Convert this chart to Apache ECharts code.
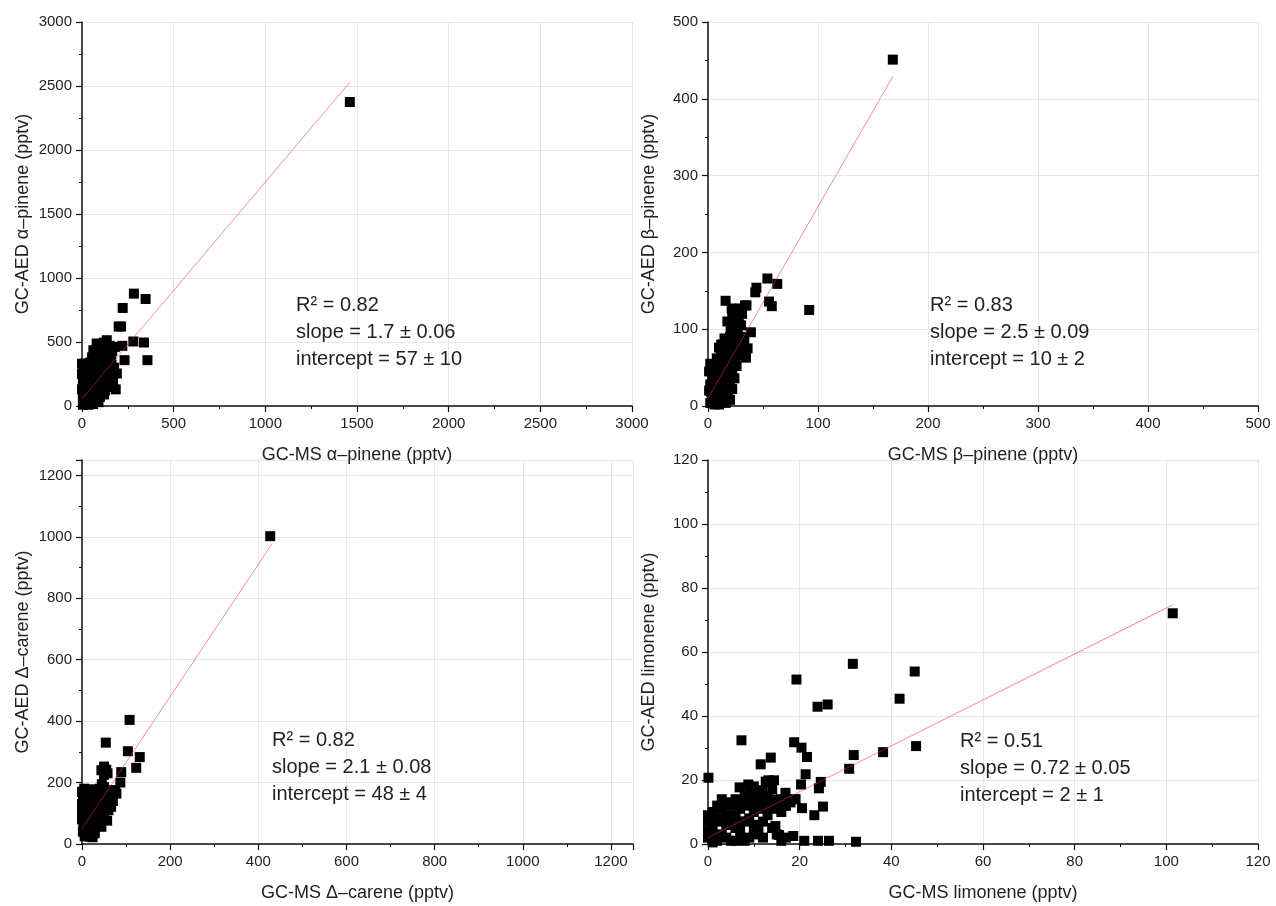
<!DOCTYPE html>
<html>
<head>
<meta charset="utf-8">
<script src="https://cdn.jsdelivr.net/npm/echarts@6/dist/echarts.min.js"></script>
<style>
  html, body { margin: 0; padding: 0; background: #fff; }
  #main { width: 1276px; height: 906px; }
</style>
</head>
<body>
<div id="main"></div>
<script>
// GC-MS vs GC-AED comparisons (pptv)
var alphaPinene = [
  [1461,2375],[283,878],[347,836],[222,766],[200,621],[213,621],[280,504],[338,496],
  [220,470],[232,358],[357,358],[184,130],
  [80,488],[135,514],[118,495],[100,470],[62,436],[85,450],[150,470],[180,462],
  [165,430],[120,440],[140,410],[105,420],[75,400],[90,380],[153,371],[125,360],
  [110,345],[98,332],[140,330],[160,320],[175,300],[22,319],[10,300],[40,290],
  [70,300],[60,270],[30,260],[15,240],[50,230],[80,250],[115,280],[130,250],
  [150,270],[171,255],[190,254],[169,203],[150,200],[120,220],[100,190],[70,200],
  [40,200],[20,190],[5,180],[10,150],[35,160],[60,160],[85,150],[110,150],
  [135,150],[151,151],[125,120],[100,110],[75,120],[50,120],[25,110],[5,100],
  [15,80],[40,80],[65,80],[98,72],[120,90],[80,50],[55,40],[30,45],[10,40],
  [44,34],[20,15],[5,10],[60,15],[35,10],[90,30],[0,250],[0,330],[18,332],
  [5,60],[0,130],[45,340],[55,380],[130,470],[160,350]
];
var alphaFit = [[0,57],[1461,2530]];

var betaPinene = [
  [168,451],[92,125],[54,166],[63,159],[44,154],[43,148],[55.5,136],[58,130],
  [16,137],[35,131],[25,126],[30,123],[17.6,110],[39,96],[20.6,97],[34.5,63],
  [21.5,127],[29,127],[33.6,131],[26,116],
  [22,118],[28,115],[31,120],[26,108],[22,104],[30,105],[27,98],[24,92],[30,90],
  [33,85],[14,80],[10,76],[18,78],[22,82],[26,84],[12,70],[16,66],[20,70],
  [24,74],[28,72],[30,66],[8,62],[14,60],[18,58],[22,56],[26,52],[2,55],[6,50],
  [10,46],[14,44],[18,48],[22,40],[24,36],[4,40],[8,36],[12,32],[16,30],[20,26],
  [22,22],[2,28],[6,24],[10,20],[14,16],[18,14],[20,8],[4,14],[8,10],[12,6],
  [16,4],[2,4],[6,2],[10,2],[1,45],[3,18],[25,62],[32,70],[36,75],[20,90],[15,88],
  [12,80],[16,74],[20,62],[24,66],[28,80],[9,54],[5,35],[11,26],[17,20],[19,36],
  [7,16],[13,10],[1,20],[5,8]
];
var betaFit = [[0,10],[168,429]];

var deltaCarene = [
  [427,1002],[108,404],[54,330],[104,302],[131,283],[123,248],[89,234],[44,240],
  [55,242],[50,225],[58,230],[50,252],[87,200],[78,164],[66,121],[57,76],[71,175],
  [17,24],[24,22],
  [0,170],[5,180],[10,175],[15,165],[20,178],[25,170],[30,172],[35,165],[40,180],
  [45,195],[50,185],[8,150],[18,150],[28,145],[38,150],[48,160],[58,165],[65,170],
  [75,175],[0,130],[5,110],[10,90],[15,120],[20,100],[25,130],[30,110],[35,90],
  [40,120],[45,100],[50,130],[55,140],[60,110],[5,60],[10,40],[15,70],[20,60],
  [25,80],[30,60],[35,70],[40,80],[0,80],[2,40],[6,25],[12,50],[50,90],[45,150],
  [60,150],[70,140],[42,130],[32,140],[22,140],[12,130],[2,150],[8,100],[0,100],
  [3,60],[28,45],[44,56],[29,35]
];
var deltaFit = [[0,50],[430,975]];

var limonene = [
  [101.4,72.1],[31.6,56.3],[45.1,53.9],[19.3,51.4],[41.8,45.4],[23.9,42.9],[26.1,43.6],
  [7.3,32.4],[18.8,31.8],[20.4,30.1],[45.4,30.6],[38.2,28.7],[31.8,27.8],[21.6,27.2],
  [13.7,27.0],[11.5,24.9],[30.8,23.5],[21.3,21.8],[0.1,20.7],[13.2,19.9],[14.4,19.9],
  [24.6,19.4],[20.3,18.6],[24.2,17.4],[11.8,16.8],[6.9,17.7],[8.8,18.6],[16.9,16.0],
  [25.1,11.7],[20.5,11.2],[23.2,9.0],[4.0,12.9],[32.3,0.7],[26.4,1.0],[24,1.0],[21,1.0],
  [18.6,2.5],[15.5,2.8],[14.7,5.6],[19.1,14.0],[15.1,13.8],[17,12],[12.6,19.5],
  [0,2],[1,5],[2,8],[3,3],[4,6],[5,1],[6,9],[7,4],[8,7],[9,2],[10,10],[11,5],[1,10],
  [2,1],[3,11],[4,9],[5,12],[6,5],[7,11],[8,1],[9,8],[10,3],[11,12],[12,7],[13,9],
  [12,2],[14,5],[15,3],[16,1],[17,2],[13,12],[0,7],[0,9],[1,3],[2,12],[3,7],[5,6],
  [6,1],[7,7],[9,12],[10,6],[12,11],[14,11],[15,13],[16,10],[17,12],[18,13],[19,14],
  [8,13],[9,15],[9,17],[10,16],[11,14],[13,15],[14,17],[16,14],[8,15],[10,18],[6,14],
  [4,13],[3,14],[0,4],[1,0.5],[4,2]
];
var limoneneFit = [[0,2],[101.5,74.8]];

var fitTexts = [
  'R\u00b2 = 0.82\nslope = 1.7 \u00b1 0.06\nintercept = 57 \u00b1 10',
  'R\u00b2 = 0.83\nslope = 2.5 \u00b1 0.09\nintercept = 10 \u00b1 2',
  'R\u00b2 = 0.82\nslope = 2.1 \u00b1 0.08\nintercept = 48 \u00b1 4',
  'R\u00b2 = 0.51\nslope = 0.72 \u00b1 0.05\nintercept = 2 \u00b1 1'
];

var FONT = '"Liberation Sans", Arial, sans-serif';

function xAx(idx, name, max, interval) {
  return {
    gridIndex: idx, type: 'value', min: 0, max: max, interval: interval,
    name: name, nameLocation: 'middle', nameGap: 40,
    nameTextStyle: { fontFamily: FONT, fontSize: 18, color: '#222' },
    axisLine: { show: true, onZero: false, lineStyle: { color: '#111', width: 1.5 } },
    axisTick: { show: true, length: 6, lineStyle: { color: '#111', width: 1.2 } },
    minorTick: { show: true, splitNumber: 2, length: 3, lineStyle: { color: '#111', width: 1 } },
    axisLabel: {
      fontFamily: FONT, fontSize: 15, color: '#222', margin: 10,
      formatter: function (v) { return v % interval === 0 ? String(v) : ''; }
    },
    splitLine: { show: true, lineStyle: { color: '#e6e6e6', width: 1 } }
  };
}
function yAx(idx, name, max, interval) {
  var a = xAx(idx, name, max, interval);
  a.nameGap = 50;
  return a;
}

var grids = [
  { left: 82, top: 22, width: 550, height: 384 },
  { left: 708, top: 22, width: 550, height: 384 },
  { left: 82, top: 460, width: 551, height: 384 },
  { left: 708, top: 460, width: 550, height: 384 }
];

function pts(idx, data) {
  return {
    type: 'scatter', xAxisIndex: idx, yAxisIndex: idx, data: data,
    symbol: 'rect', symbolSize: 10, itemStyle: { color: '#000', opacity: 1 },
    z: 2, silent: true
  };
}
function fit(idx, data) {
  return {
    type: 'line', xAxisIndex: idx, yAxisIndex: idx, data: data, showSymbol: false,
    lineStyle: { color: 'rgba(235,50,50,0.55)', width: 1 }, z: 3, silent: true
  };
}

var textPos = [[296, 292], [930, 292], [272, 727], [960, 728]];

var myChart = echarts.init(document.getElementById('main'));
myChart.setOption({
  animation: false,
  backgroundColor: '#fff',
  grid: grids,
  xAxis: [
    xAx(0, 'GC-MS \u03b1\u2013pinene (pptv)', 3000, 500),
    xAx(1, 'GC-MS \u03b2\u2013pinene (pptv)', 500, 100),
    xAx(2, 'GC-MS \u0394\u2013carene (pptv)', 1250, 200),
    xAx(3, 'GC-MS limonene (pptv)', 120, 20)
  ],
  yAxis: [
    yAx(0, 'GC-AED \u03b1\u2013pinene (pptv)', 3000, 500),
    yAx(1, 'GC-AED \u03b2\u2013pinene (pptv)', 500, 100),
    yAx(2, 'GC-AED \u0394\u2013carene (pptv)', 1250, 200),
    yAx(3, 'GC-AED limonene (pptv)', 120, 20)
  ],
  series: [
    pts(0, alphaPinene), fit(0, alphaFit),
    pts(1, betaPinene), fit(1, betaFit),
    pts(2, deltaCarene), fit(2, deltaFit),
    pts(3, limonene), fit(3, limoneneFit)
  ],
  graphic: fitTexts.map(function (t, i) {
    return {
      type: 'text', left: textPos[i][0], top: textPos[i][1], z: 10,
      style: { text: t, fontFamily: FONT, fontSize: 20, lineHeight: 27, fill: '#222' }
    };
  })
});
</script>
</body>
</html>
